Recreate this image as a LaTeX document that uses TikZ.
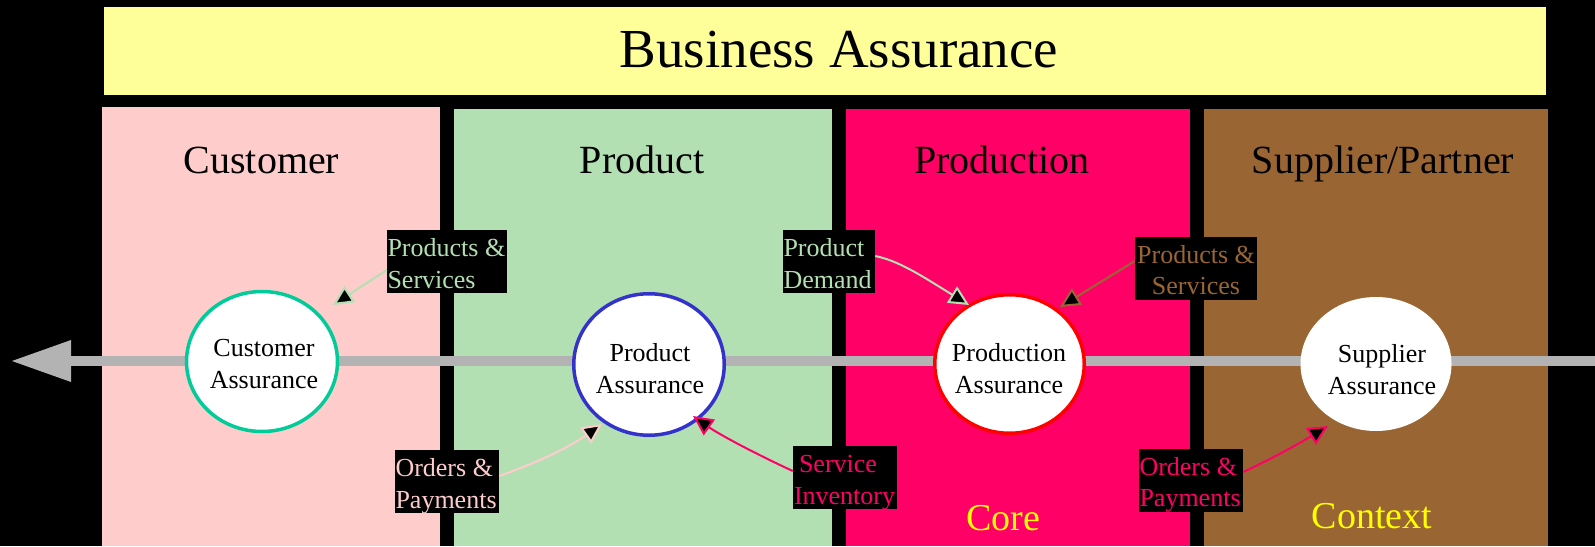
\documentclass[tikz,border=0pt]{standalone}
\usepackage{fontspec}
\setmainfont{Liberation Serif}
\usetikzlibrary{arrows.meta,shapes.geometric}
\definecolor{bannerbg}{HTML}{FFFF99}
\definecolor{custbg}{HTML}{FFCCCC}
\definecolor{prodbg}{HTML}{B3E0B3}
\definecolor{mfgbg}{HTML}{FF0066}
\definecolor{suppbg}{HTML}{996633}
\definecolor{axisgray}{HTML}{B3B3B3}
\definecolor{ringteal}{HTML}{00CC99}
\definecolor{ringblue}{HTML}{3333CC}
\definecolor{ringred}{HTML}{FF0000}
\definecolor{footyellow}{HTML}{FFFF00}
\newcommand{\topstrut}{\rule{0pt}{26.5pt}}
\begin{document}
\begin{tikzpicture}[x=1pt,y=-1pt,
  ring/.style={ellipse, line width=3.5pt, fill=white, inner sep=0pt},
  circtext/.style={align=center, inner sep=0pt, font=\fontsize{26}{32}\selectfont},
  head/.style={anchor=base, inner sep=0pt, font=\fontsize{40}{48}\selectfont},
  foot/.style={anchor=base, inner sep=0pt, text=footyellow, font=\fontsize{38}{46}\selectfont},
  lblbox/.style={fill=black, inner sep=0pt, minimum height=63pt},
  lbltext/.style={inner sep=0pt, font=\fontsize{26}{31.5}\selectfont},
  feed/.style={line width=2pt, -{Triangle[length=20pt,width=19pt,fill=black]}}
]
\useasboundingbox (0,0) rectangle (1595,546);
\fill[black] (0,0) rectangle (1595,546);
% banner and panels
\fill[bannerbg] (104,7) rectangle (1546,95);
\fill[custbg] (102,107) rectangle (440,546);
\fill[prodbg] (454,109) rectangle (832,546);
\fill[mfgbg] (846,109) rectangle (1190,546);
\fill[suppbg] (1204,109) rectangle (1548,546);
\node[anchor=base, inner sep=0pt, font=\fontsize{55}{66}\selectfont] (title) at (839,67) {Business Assurance};
\node[head] (hcust) at (261.5,173) {Customer};
\node[head] (hprod) at (642,173) {Product};
\node[head] (hmfg) at (1002,173) {Production};
\node[head] (hsupp) at (1383,173) {Supplier/Partner};
\node[foot] (core) at (1003,530) {Core};
\node[foot] (context) at (1372,528) {Context};
% axis
\coordinate (axisR) at (1595,361);
\coordinate (axisL) at (12,361);
\draw[axisgray, line width=10pt, -{Triangle[length=59pt,width=42pt,line width=0pt]}] (axisR) -- (axisL);
% circles
\node[ring, draw=ringteal, minimum width=151pt, minimum height=140pt] (cust) at (262,361.5) {};
\node[ring, draw=ringblue, minimum width=150.5pt, minimum height=141.5pt] (prod) at (649,364.5) {};
\node[ring, draw=ringred, minimum width=149.5pt, minimum height=138.5pt] (mfg) at (1009.5,364) {};
\node[ring, minimum width=151pt, minimum height=134pt] (supp) at (1376,364) {};
\node[circtext] (custT) at (264,364) {Customer\\Assurance};
\node[circtext] (prodT) at (650,368.5) {Product\\Assurance};
\node[circtext] (mfgT) at (1009,368.5) {Production\\Assurance};
\node[circtext] (suppT) at (1382,370) {Supplier\\Assurance};
% label boxes
\node[lblbox, minimum width=120pt] (ps1) at (447,261.5) {};
\node[lblbox, minimum width=104pt] (op1) at (447,481.5) {};
\node[lblbox, minimum width=104pt] (si) at (845,477.5) {};
\node[lblbox, minimum width=92pt] (pd) at (829,261.5) {};
\node[lblbox, minimum width=122pt] (ps2) at (1196,268) {};
\node[lblbox, minimum width=104pt] (op2) at (1191,480) {};
% label texts
\node[lbltext, text=prodbg, align=left, anchor=north west] (ps1T) at ([xshift=0.5pt]ps1.north west) {\topstrut Products \&\\Services};
\node[lbltext, text=custbg, align=left, anchor=north west] (op1T) at ([xshift=0.5pt]op1.north west) {\topstrut Orders \&\\Payments};
\node[lbltext, text=mfgbg, align=left, anchor=north west] (siT) at ([xshift=1pt]si.north west) {\topstrut\hspace*{5pt}Service\\Inventory};
\node[lbltext, text=prodbg, align=left, anchor=north west] (pdT) at ([xshift=0.5pt]pd.north west) {\topstrut Product\\Demand};
\node[lbltext, text=suppbg, align=center, anchor=north] (ps2T) at (ps2.north) {\topstrut Products \&\\Services};
\node[lbltext, text=mfgbg, align=left, anchor=north west] (op2T) at ([xshift=0.5pt]op2.north west) {\topstrut Orders \&\\Payments};
% arrow tips near the circles
\coordinate (t1) at (333,305);
\coordinate (t2) at (602,424);
\coordinate (t3) at (693,416);
\coordinate (t4) at (969,305);
\coordinate (t5) at (1060,307);
\coordinate (t6) at (1328,426);
\draw[feed, prodbg] ([yshift=-8.5pt]ps1.west) -- (t1);
\draw[feed, custbg] ([yshift=5.5pt]op1.east) .. controls (535,463) and (565,450) .. (t2);
\draw[feed, mfgbg] ([yshift=6.5pt]si.west) .. controls (760,456) and (720,435) .. (t3);
\draw[feed, prodbg] ([yshift=5.5pt]pd.east) .. controls (900,261) and (925,278) .. (t4);
\draw[feed, suppbg] ([yshift=7pt]ps2.west) -- (t5);
\draw[feed, mfgbg] ([yshift=8pt]op2.east) .. controls (1265,462) and (1295,446) .. (t6);
\end{tikzpicture}
\end{document}
